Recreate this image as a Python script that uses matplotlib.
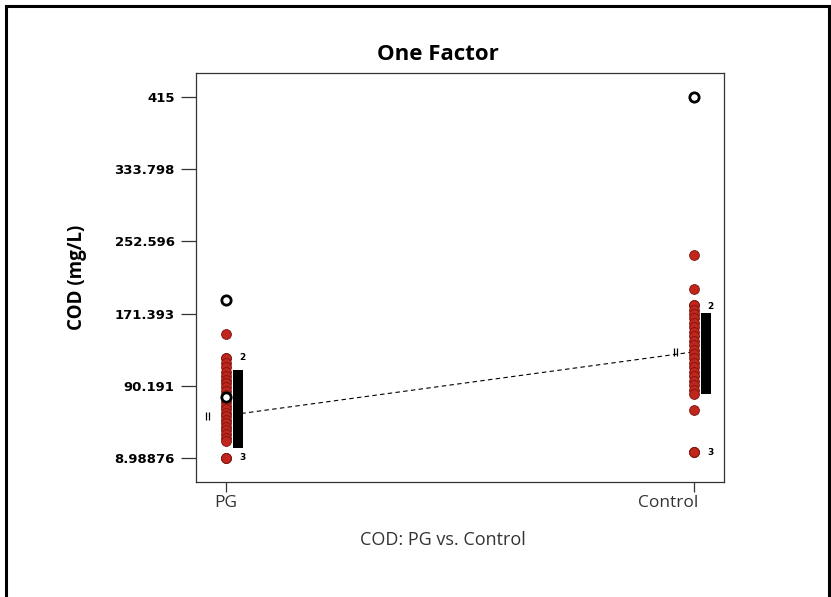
import matplotlib
matplotlib.use("Agg")
import matplotlib.pyplot as plt
from matplotlib.patches import Rectangle
import matplotlib.transforms as mtrans

# ---------------- data ----------------
categories = ["PG", "Control"]
tick_values = [8.98876, 90.191, 171.393, 252.596, 333.798, 415]
tick_labels = ["8.98876", "90.191", "171.393", "252.596", "333.798", "415"]

pg_points = [148.4, 121.5, 121.5, 116, 111, 106, 101, 97, 93, 89, 84, 80, 76,
             72, 68, 64, 60, 56, 52, 48, 44, 40, 36, 32, 28, 9, 9, 9]
control_points = [237, 199, 181, 181, 176, 171, 166, 161, 156, 151, 146, 141,
                  136, 131, 126, 121, 116, 111, 106, 101, 96, 91, 86, 81,
                  63, 15.7, 15.7, 15.7]
pg_open = [186.7, 77.6]
control_open = [415]
pg_black = [102, 99, 95, 91, 87, 84, 80, 76, 72, 69, 65, 61, 57, 53, 50,
            46, 42, 38, 34, 30, 26]
control_black = [167, 163, 159, 155, 151, 147, 143, 139, 135, 131, 127, 123,
                 119, 115, 111, 107, 103, 99, 95, 91, 87]
means = [56.7, 128.4]
replicate_labels = [("2", 0, 121.5), ("3", 0, 9), ("2", 1, 179), ("3", 1, 15.7)]

# ---------------- figure ----------------
fig = plt.figure(figsize=(8.31, 5.97), dpi=100)
fig.patch.set_facecolor("white")
fig.patches.append(Rectangle((6 / 831, -0.05), 823 / 831, 1 - 6 / 597 + 0.05,
                             transform=fig.transFigure, fill=False,
                             edgecolor="black", linewidth=2.2))

ax = fig.add_axes([195.5 / 831, 1 - 482 / 597, (724 - 195.5) / 831, (482 - 73) / 597])
xpos = [1, 2]
ax.set_xlim(0.935, 2.064)
ax.set_ylim(-18, 442)

# mean line
ax.plot(xpos, means, linestyle=(0, (4, 3)), color="black", linewidth=0.8, zorder=1)

# black replicate bands
off = 12 / 468
ax.scatter([xpos[0] + off] * len(pg_black), pg_black, marker="s", s=42,
           color="black", zorder=2, linewidths=0)
ax.scatter([xpos[1] + off] * len(control_black), control_black, marker="s", s=42,
           color="black", zorder=2, linewidths=0)

# red points
ax.scatter([xpos[0]] * len(pg_points), pg_points, s=50, color="#c0261c",
           edgecolors="#7a1410", linewidths=0.6, zorder=3)
ax.scatter([xpos[1]] * len(control_points), control_points, s=50, color="#c0261c",
           edgecolors="#7a1410", linewidths=0.6, zorder=3)

# open points
ax.scatter([xpos[0]] * len(pg_open), pg_open, s=45, facecolors="white",
           edgecolors="black", linewidths=2.0, zorder=4)
ax.scatter([xpos[1]] * len(control_open), control_open, s=45, facecolors="white",
           edgecolors="black", linewidths=2.0, zorder=4)

# LSD ticks
for i, m in enumerate(means):
    ax.plot([xpos[i] - 20 / 468, xpos[i] - 17 / 468], [m, m], marker="|",
            linestyle="none", color="black", markersize=6, mew=0.9, zorder=2)

# replicate labels
for lab, i, v in replicate_labels:
    ax.text(xpos[i] + 13 / 468, v, lab, fontsize=6.5, fontweight="bold",
            ha="left", va="center", color="black", family="DejaVu Sans", zorder=5)

# axes styling
for s in ax.spines.values():
    s.set_color("#333333")
    s.set_linewidth(0.9)
ax.set_yticks(tick_values)
ax.set_yticklabels(tick_labels, fontsize=9.5, fontweight="bold", family="DejaVu Sans")
ax.set_xticks(xpos)
ax.set_xticklabels([])
ax.tick_params(axis="y", length=11, width=0.9, pad=4, colors="#333333", labelcolor="black")
ax.tick_params(axis="x", length=7, width=0.9, colors="#333333")
ax.tick_params(right=False, top=False)

# category labels (PG centred, Control shifted left like the reference)
xlab_trans = mtrans.blended_transform_factory(ax.transData, fig.transFigure)
label_shift = [0, -26 / 468]
for i, cat in enumerate(categories):
    ax.text(xpos[i] + label_shift[i], 1 - 503 / 597, cat, transform=xlab_trans,
            fontsize=12.5, family="Open Sans", ha="center", va="center",
            color="#333333", clip_on=False)

fig.text(437.5 / 831, 1 - 55 / 597, "One Factor", fontsize=16, fontweight="bold",
         family="Open Sans", ha="center", va="center")
fig.text(77 / 831, 1 - 277 / 597, "COD (mg/L)", fontsize=13.5, fontweight="bold",
         family="Open Sans", ha="center", va="center", rotation=90)
fig.text(443 / 831, 1 - 540 / 597, "COD: PG vs. Control", fontsize=13,
         family="Open Sans", ha="center", va="center", color="#333333")

fig.savefig("out.png", dpi=100, facecolor="white")
